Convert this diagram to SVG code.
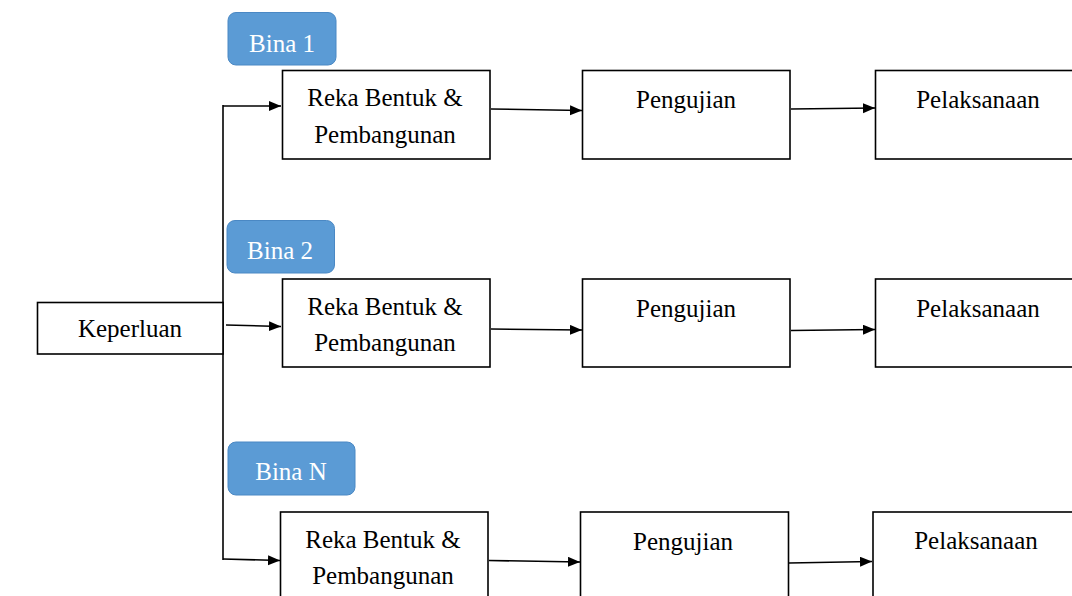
<svg xmlns="http://www.w3.org/2000/svg" width="1072" height="596" viewBox="0 0 1072 596">
<style>
.box{fill:#fff;stroke:#000;stroke-width:1.6}
.tag{fill:#5B9BD5;stroke:#4A88C4;stroke-width:1}
text{font-family:'Liberation Serif',serif;font-size:25px;text-anchor:middle}
.t{fill:#000}
.tw{fill:#fff}
.ln{fill:none;stroke:#000;stroke-width:1.6}
</style>
<defs>
<marker id="ah" markerUnits="userSpaceOnUse" markerWidth="13" markerHeight="11" refX="12" refY="5" orient="auto">
<path d="M0,0 L12,5 L0,10 z" fill="#000"/>
</marker>
</defs>
<rect width="1072" height="596" fill="#fff"/>

<g id="connectors">
<path class="ln" d="M223,105 L223,560"/>
<path class="ln" d="M223,106 L281,106" marker-end="url(#ah)"/>
<path class="ln" d="M226,325 L281,326.5" marker-end="url(#ah)"/>
<path class="ln" d="M223,559 L280,560.5" marker-end="url(#ah)"/>
<path class="ln" d="M491,109 L582,110.5" marker-end="url(#ah)"/>
<path class="ln" d="M791,109 L875,108" marker-end="url(#ah)"/>
<path class="ln" d="M491,329 L582,330" marker-end="url(#ah)"/>
<path class="ln" d="M791,330.5 L875,329.5" marker-end="url(#ah)"/>
<path class="ln" d="M489,560.5 L580,562" marker-end="url(#ah)"/>
<path class="ln" d="M789,563 L872,561.5" marker-end="url(#ah)"/>
</g>

<g id="keperluan">
<rect class="box" x="37.5" y="302.5" width="185.5" height="51.5"/>
<text class="t" x="130" y="337">Keperluan</text>
</g>

<g id="bina1">
<rect class="tag" x="228" y="12.5" width="108" height="52.5" rx="8"/>
<text class="tw" x="282" y="52">Bina 1</text>
</g>
<g id="reka1">
<rect class="box" x="282.5" y="70.5" width="207.5" height="88.5"/>
<text class="t" x="385" y="106">Reka Bentuk &amp;</text>
<text class="t" x="385" y="143">Pembangunan</text>
</g>
<g id="uji1">
<rect class="box" x="582.5" y="70.5" width="207.5" height="88.5"/>
<text class="t" x="686" y="108">Pengujian</text>
</g>
<g id="lak1">
<rect class="box" x="875.5" y="70.5" width="210" height="88.5"/>
<text class="t" x="978" y="108">Pelaksanaan</text>
</g>

<g id="bina2">
<rect class="tag" x="227" y="220.5" width="107.5" height="52.5" rx="8"/>
<text class="tw" x="280" y="259">Bina 2</text>
</g>
<g id="reka2">
<rect class="box" x="282.5" y="279" width="207.5" height="88"/>
<text class="t" x="385" y="315">Reka Bentuk &amp;</text>
<text class="t" x="385" y="351">Pembangunan</text>
</g>
<g id="uji2">
<rect class="box" x="582.5" y="279" width="207.5" height="88"/>
<text class="t" x="686" y="317">Pengujian</text>
</g>
<g id="lak2">
<rect class="box" x="875.5" y="279" width="210" height="88"/>
<text class="t" x="978" y="317">Pelaksanaan</text>
</g>

<g id="binaN">
<rect class="tag" x="228" y="442" width="127" height="53" rx="8"/>
<text class="tw" x="291" y="480">Bina N</text>
</g>
<g id="reka3">
<rect class="box" x="280.5" y="512" width="207.5" height="100"/>
<text class="t" x="383" y="548">Reka Bentuk &amp;</text>
<text class="t" x="383" y="584">Pembangunan</text>
</g>
<g id="uji3">
<rect class="box" x="580.5" y="512" width="208" height="100"/>
<text class="t" x="683" y="550">Pengujian</text>
</g>
<g id="lak3">
<rect class="box" x="873" y="512" width="212" height="100"/>
<text class="t" x="976" y="549">Pelaksanaan</text>
</g>
</svg>
